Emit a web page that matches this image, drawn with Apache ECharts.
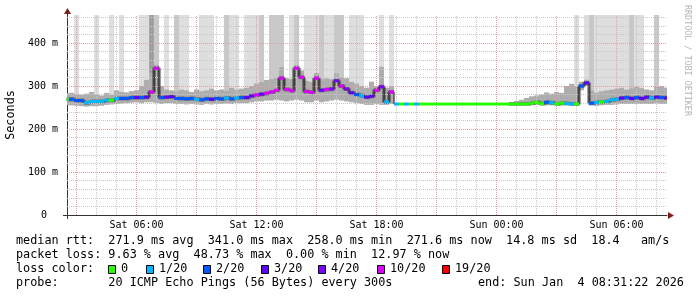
<!DOCTYPE html>
<html><head><meta charset="utf-8">
<script src="https://cdn.jsdelivr.net/npm/echarts@6/dist/echarts.min.js"></script>
<style>html,body{margin:0;padding:0;background:#fff}#c{width:697px;height:297px}</style>
</head><body><div id="c"></div>
<script>
// time axis in hours since Sat 00:00
const tStart = 2 + 31/60 + 22/3600;   // Sat 02:31:22
const tEnd = tStart + 30;             // Sun 08:31:22
const step0 = 2.5, stepH = 0.25;      // 15-minute samples

const median = [
 269,269,266,266,261,264,264,264,267,267,
 271,271,271,273,273,273,274,286,341,273,
 274,275,271,271,270,271,269,268,270,269,
 271,270,272,270,272,273,273,277,279,281,
 283,286,290,318,292,289,341,320,287,285,
 318,290,292,293,312,300,293,284,280,277,
 274,276,290,298,263,286,258,258,258,258,
 258,258,258,258,258,258,258,258,258,258,
 258,258,258,258,258,258,258,258,258,258,
 258,258,258,260,262,259,262,261,258,260,
 259,258,258,300,307,260,262,263,264,268,
 269,272,273,271,273,271,274,272,274,273,272];
const loss = [
 0,2,2,2,1,1,1,1,1,0,
 1,2,2,2,3,2,3,12,12,2,
 3,3,2,2,2,2,1,2,2,3,
 2,2,1,2,1,2,3,3,12,3,
 12,12,12,12,12,12,12,12,12,12,
 12,3,12,5,5,12,5,3,2,1,
 3,3,12,5,1,12,1,0,1,0,
 1,0,0,0,0,0,0,0,0,0,
 0,0,0,0,0,0,0,0,0,0,
 0,0,0,0,0,0,2,1,0,0,
 1,1,0,2,3,2,1,0,1,1,
 1,3,2,3,2,3,3,1,3,2,3];
const smokeLo = [
 256,255,254,253,252,253,253,254,256,257,
 258,259,260,261,262,260,262,262,260,258,
 260,260,258,258,257,258,257,256,258,257,
 258,258,259,258,260,260,260,262,264,264,
 266,266,268,266,264,266,268,266,262,262,
 266,262,264,266,268,266,264,262,260,258,
 256,256,258,256,256,258,258,258,258,258,
 258,258,258,258,258,258,258,258,258,258,
 258,258,258,258,258,258,258,258,258,257,
 257,257,256,256,256,255,255,255,256,255,
 256,255,255,290,300,255,254,255,256,256,
 257,258,258,258,258,258,258,258,259,258,258];
const smokeHi = [
 283,284,282,280,282,286,280,278,284,280,
 290,286,285,288,290,300,314,330,350,300,
 292,290,288,292,290,286,292,288,290,294,
 290,292,290,296,292,294,296,300,306,310,
 314,316,320,345,318,316,350,336,312,310,
 330,316,318,316,330,322,318,310,306,300,
 296,310,300,345,296,300,258,258,258,258,
 258,258,258,258,258,258,258,258,258,258,
 258,258,258,258,258,258,258,258,258,262,
 265,268,272,276,278,280,285,282,286,284,
 300,305,300,310,315,290,285,288,290,292,
 294,296,292,295,298,295,292,290,298,300,296];
// pings above the graph top: 0 none, 1 few, 2 more, 3 many
const outlier = [
 0,0,1,0,0,0,1,0,0,1,
 0,1,0,0,0,1,1,3,2,0,
 1,0,2,1,1,0,0,1,1,1,
 0,0,2,1,1,0,1,1,1,2,
 0,2,2,2,0,1,2,0,1,1,
 1,2,1,1,2,2,0,1,1,1,
 0,0,0,1,0,1,0,0,0,0,
 0,0,0,0,0,0,0,0,0,0,
 0,0,0,0,0,0,0,0,0,0,
 0,0,0,0,0,0,0,0,0,0,
 0,0,1,0,1,2,1,1,1,1,
 1,1,1,2,1,1,0,0,2,0,0];

const yMax = 465;
const yMajor = [100, 200, 300, 400];
const yMinor = [20,40,60,80,120,140,160,180,220,240,260,280,320,340,360,380,420,440,460];
const xMinor = [3,4,5,6,7,8,9,10,11,12,13,14,15,16,17,18,19,20,21,22,23,24,25,26,27,28,29,30,31,32];
const xMajor = [3,6,9,12,15,18,21,24,27,30];
const xLabelTicks = [6, 12, 18, 24, 30];
const xLabelText = ['Sat 06:00', 'Sat 12:00', 'Sat 18:00', 'Sun 00:00', 'Sun 06:00'];
const lossBins = [0, 1, 2, 3, 4, 10, 19];
const lossLabels = ['0', '1/20', '2/20', '3/20', '4/20', '10/20', '19/20'];
const lossColors = ['#26ff00', '#00b8ff', '#0059ff', '#5e00ff', '#7e00ff', '#dd00ff', '#ff0000'];
const legendLine1 = 'median rtt:  271.9 ms avg  341.0 ms max  258.0 ms min  271.6 ms now  14.8 ms sd  18.4   am/s';
const legendLine2 = 'packet loss: 9.63 % avg  48.73 % max  0.00 % min  12.97 % now';
const legendLine3 = 'loss color:';
const legendLine4 = 'probe:       20 ICMP Echo Pings (56 Bytes) every 300s';
const legendEnd = 'end: Sun Jan  4 08:31:22 2026';

const mono = '"DejaVu Sans Mono", monospace';
const barColors = ['#dedede', '#c8c8c8', '#a0a0a0'];
const times = median.map((_, i) => step0 + stepH * i);
function lossColor(l) { let c = lossColors[0]; lossBins.forEach((b, k) => { if (l >= b) c = lossColors[k]; }); return c; }

const gridLines = [];
xMinor.forEach(h => gridLines.push({xAxis: h, lineStyle: {color: '#c8c8c8', type: [1, 1], width: 1}}));
yMinor.forEach(v => gridLines.push({yAxis: v, lineStyle: {color: '#c8c8c8', type: [1, 1], width: 1}}));
xMajor.forEach(h => gridLines.push({xAxis: h, lineStyle: {color: '#e4a0a0', type: [1, 1], width: 1}}));
yMajor.forEach(v => gridLines.push({yAxis: v, lineStyle: {color: '#e4a0a0', type: [1, 1], width: 1}}));

const barData = [], smokeData = [], coreData = [], segData = [];
times.forEach((t, i) => {
  if (outlier[i] > 0) barData.push([t, smokeHi[i], outlier[i]]);
  if (smokeHi[i] > smokeLo[i]) smokeData.push([t, smokeLo[i], smokeHi[i]]);
  coreData.push([t, smokeHi[i] > smokeLo[i] ? median[i] : null]);
  segData.push([t, median[i], loss[i]]);
});

const chart = echarts.init(document.getElementById('c'), null, {renderer: 'canvas', width: 697, height: 297});

const graphics = [
  {type: 'text', x: 16, y: 241, style: {text: legendLine1, font: '11.8px ' + mono, fill: '#000', verticalAlign: 'middle'}},
  {type: 'text', x: 16, y: 255, style: {text: legendLine2, font: '11.8px ' + mono, fill: '#000', verticalAlign: 'middle'}},
  {type: 'text', x: 16, y: 269, style: {text: legendLine3, font: '11.8px ' + mono, fill: '#000', verticalAlign: 'middle'}},
  {type: 'text', x: 16, y: 283, style: {text: legendLine4, font: '11.8px ' + mono, fill: '#000', verticalAlign: 'middle'}},
  {type: 'text', x: 478, y: 283, style: {text: legendEnd, font: '11.8px ' + mono, fill: '#000', verticalAlign: 'middle'}},
  {type: 'text', x: 687, y: 5, rotation: -Math.PI / 2, style: {text: 'RRDTOOL / TOBI OETIKER', font: '8.4px ' + mono, fill: '#b4b4b4', verticalAlign: 'middle'}},
  {type: 'polygon', shape: {points: [[668, 212], [674, 215.5], [668, 219]]}, style: {fill: '#8b1c1c'}},
  {type: 'polygon', shape: {points: [[64, 14], [67.5, 8], [71, 14]]}, style: {fill: '#8b1c1c'}},
  {type: 'line', shape: {x1: 63, y1: 215.5, x2: 67, y2: 215.5}, style: {stroke: '#333', lineWidth: 1}},
  {type: 'line', shape: {x1: 67.5, y1: 215, x2: 67.5, y2: 219}, style: {stroke: '#333', lineWidth: 1}},
  {type: 'line', shape: {x1: 67.5, y1: 10, x2: 67.5, y2: 15}, style: {stroke: '#333', lineWidth: 1}}
];
const sqX = [108, 146, 203, 261, 318, 377, 442];
lossLabels.forEach((lab, k) => {
  graphics.push({type: 'rect', shape: {x: sqX[k] + 0.5, y: 265.5, width: 7, height: 8}, style: {fill: lossColors[k], stroke: '#000', lineWidth: 1}});
  graphics.push({type: 'text', x: sqX[k] + 13, y: 269, style: {text: lab, font: '11.8px ' + mono, fill: '#000', verticalAlign: 'middle'}});
});

chart.setOption({
  animation: false,
  backgroundColor: '#fff',
  grid: {left: 67, right: 30, top: 15, bottom: 82, containLabel: false, outerBoundsMode: 'none'},
  xAxis: {
    type: 'value', min: tStart, max: tEnd,
    axisLine: {show: true, lineStyle: {color: '#333'}},
    axisTick: {show: false}, splitLine: {show: false},
    axisLabel: {customValues: xLabelTicks, formatter: v => xLabelText[xLabelTicks.indexOf(Math.round(v))] || '',
      fontFamily: mono, fontSize: 10, color: '#000', margin: 5}
  },
  yAxis: {
    type: 'value', min: 0, max: yMax, interval: 100,
    axisLine: {show: true, lineStyle: {color: '#333'}},
    axisTick: {show: false}, splitLine: {show: false},
    axisLabel: {formatter: v => v === 0 ? '{z|0}' : (v % 100 === 0 ? v + ' m' : ''),
      fontFamily: mono, fontSize: 10, color: '#000', margin: 9,
      rich: {z: {fontFamily: mono, fontSize: 10, color: '#000', padding: [0, 11, 0, 0]}}},
    name: 'Seconds', nameLocation: 'middle', nameRotate: 90, nameGap: 50,
    nameTextStyle: {fontFamily: mono, fontSize: 11.8, color: '#000'}
  },
  graphic: graphics,
  series: [
    {type: 'custom', name: 'outliers', clip: true, z: 1, silent: true, data: barData, encode: {x: 0, y: 1},
      renderItem: (p, api) => {
        const t = api.value(0);
        const a = api.coord([t - stepH / 2, yMax]);
        const b = api.coord([t + stepH / 2, api.value(1)]);
        return {type: 'rect', shape: {x: a[0], y: a[1], width: b[0] - a[0], height: b[1] - a[1]}, style: {fill: barColors[api.value(2) - 1]}};
      }},
    {type: 'custom', name: 'smoke', clip: true, z: 2, silent: true, data: smokeData, encode: {x: 0, y: [1, 2]},
      renderItem: (p, api) => {
        const t = api.value(0);
        const a = api.coord([t - stepH / 2, api.value(2)]);
        const b = api.coord([t + stepH / 2, api.value(1)]);
        return {type: 'rect', shape: {x: a[0], y: a[1], width: b[0] - a[0], height: b[1] - a[1]}, style: {fill: '#adadad'}};
      }},
    {type: 'line', name: 'core', z: 3, silent: true, data: coreData, step: 'middle', showSymbol: false, connectNulls: false,
      lineStyle: {width: 4, color: 'rgba(60,60,60,0.5)'}},
    {type: 'line', name: 'grid', z: 4, silent: true, data: [],
      markLine: {silent: true, symbol: ['none', 'none'], label: {show: false}, animation: false, data: gridLines}},
    {type: 'line', name: 'median', z: 5, silent: true, data: segData.map(d => [d[0], d[1]]), step: 'middle', showSymbol: false,
      lineStyle: {width: 1, color: '#111'}},
    {type: 'custom', name: 'loss', clip: true, z: 6, silent: true, data: segData, encode: {x: 0, y: 1},
      renderItem: (p, api) => {
        const t = api.value(0);
        const a = api.coord([t - stepH / 2, api.value(1)]);
        const b = api.coord([t + stepH / 2, api.value(1)]);
        return {type: 'rect', shape: {x: a[0], y: a[1] - 1.5, width: b[0] - a[0], height: 3}, style: {fill: lossColor(api.value(2))}};
      }}
  ]
});
</script></body></html>
